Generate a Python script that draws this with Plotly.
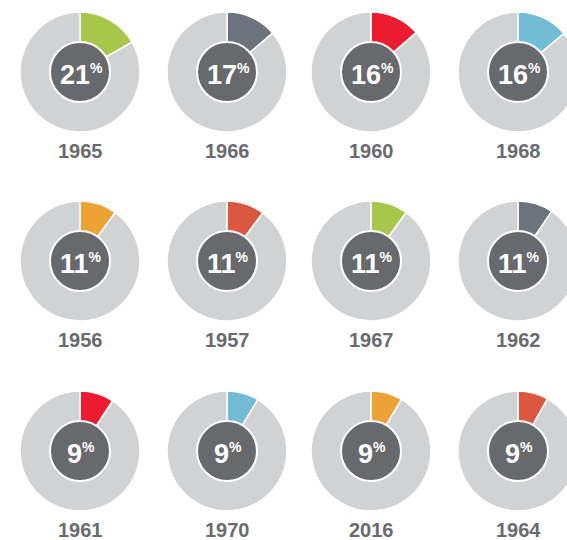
import plotly.graph_objects as go

# ---- data ----
years = ["1965", "1966", "1960", "1968",
         "1956", "1957", "1967", "1962",
         "1961", "1970", "2016", "1964"]
labels_pct = [21, 17, 16, 16,
              11, 11, 11, 11,
              9, 9, 9, 9]
# wedge share as drawn in the picture (percent of the ring)
wedge_pct = [16.7, 13.8, 13.6, 13.9,
             10.0, 10.2, 10.0, 9.5,
             9.2, 8.6, 8.5, 8.2]
colors = ["#a6c74a", "#6c737c", "#ed1b2f", "#72bcd5",
          "#eca234", "#db573f", "#a6c74a", "#6c737c",
          "#ed1b2f", "#72bcd5", "#eca234", "#db573f"]

# ---- layout constants ----
W, H = 590, 540
col_x = [80, 227, 371, 518]
row_y = [72, 261, 451]
label_dy = 79
R_OUT = 60
R_IN = 30
RING_GREY = "#d1d2d4"
INNER = "#68696d"
TEXT_GREY = "#6a6b6e"
FONT = "Liberation Sans"

fig = go.Figure()
shapes = []
annotations = []
for i, (yr, lp, wp, c) in enumerate(zip(years, labels_pct, wedge_pct, colors)):
    cx = col_x[i % 4]
    cy = row_y[i // 4]
    fig.add_trace(go.Pie(
        values=[wp, 100 - wp],
        marker=dict(colors=[c, RING_GREY], line=dict(color="white", width=1.5)),
        sort=False, direction="clockwise", rotation=0,
        textinfo="none", hoverinfo="none", showlegend=False,
        domain=dict(x=[(cx - R_OUT) / W, (cx + R_OUT) / W],
                    y=[1 - (cy + R_OUT) / H, 1 - (cy - R_OUT) / H]),
    ))
    shapes.append(dict(
        type="circle", xref="paper", yref="paper", layer="above",
        x0=(cx - R_IN) / W, x1=(cx + R_IN) / W,
        y0=1 - (cy + R_IN) / H, y1=1 - (cy - R_IN) / H,
        fillcolor=INNER, line=dict(color="white", width=2),
    ))
    annotations.append(dict(
        x=(cx + 1) / W, y=1 - (cy + 3) / H, xref="paper", yref="paper",
        xanchor="center", yanchor="middle", showarrow=False,
        text=f"<b>{lp}<sup><span style='font-size:14px'>%</span></sup></b>",
        font=dict(family=FONT, size=27, color="white"),
    ))
    annotations.append(dict(
        x=cx / W, y=1 - (cy + label_dy) / H, xref="paper", yref="paper",
        xanchor="center", yanchor="middle", showarrow=False,
        text=f"<b>{yr}</b>",
        font=dict(family=FONT, size=20, color=TEXT_GREY),
    ))

fig.update_layout(
    width=W, height=H,
    margin=dict(l=0, r=0, t=0, b=0),
    paper_bgcolor="white", plot_bgcolor="white",
    shapes=shapes, annotations=annotations,
)

fig.write_html(
    "out.html",
    config={"displayModeBar": False},
    post_script="document.body.style.margin='0';document.body.style.overflow='hidden';",
)
